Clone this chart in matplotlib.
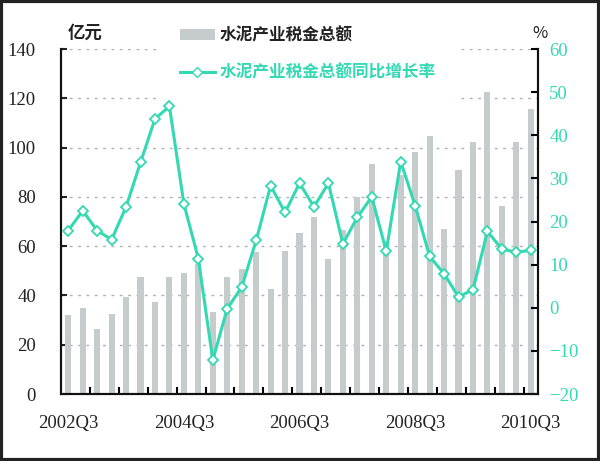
import matplotlib
matplotlib.use("Agg")
import matplotlib.pyplot as plt
from matplotlib.lines import Line2D
from matplotlib.patches import Patch, Rectangle
from matplotlib.ticker import FixedLocator

plt.rcParams['font.family'] = ['Liberation Serif', 'Noto Sans CJK SC', 'DejaVu Sans']
cjk = ['Noto Sans CJK SC', 'DejaVu Sans']

# quarters 2002Q3 .. 2010Q3
quarters = []
for y in range(2002, 2011):
    for q in range(1, 5):
        if (y == 2002 and q < 3) or (y == 2010 and q > 3):
            continue
        quarters.append(f"{y}Q{q}")

# 水泥产业税金总额 (亿元)
tax_total = [32, 35, 26.3, 32.5, 39.2, 47.3, 37.5, 47.3, 49.2, 52.7,
             33.4, 47.3, 50.6, 57.8, 42.5, 58, 65.5, 72, 54.8, 66.6,
             80, 93.2, 62, 89, 98.3, 104.7, 67, 90.9, 102.4, 122.7,
             76.3, 102.4, 115.5]

# 同比增长率 (%)
growth = [17.9, 22.5, 17.9, 15.8, 23.4, 33.7, 43.8, 46.7, 24.1, 11.4,
          -12.1, -0.2, 4.8, 15.6, 28.3, 22.1, 28.9, 23.4, 28.9, 14.8,
          21, 25.7, 13.1, 33.9, 23.7, 11.9, 7.9, 2.5, 4.2, 17.7,
          13.6, 12.9, 13.3]

label_every = 8
bar_color = '#c6cccc'
teal = '#33d9b2'

x = list(range(len(quarters)))

fig = plt.figure(figsize=(6, 4.61), dpi=100)
ax = fig.add_axes([0.1017, 0.1453, 0.795, 0.7484])
ax2 = ax.twinx()

ax.bar(x, tax_total, width=0.42, color=bar_color, zorder=2)
ax.set_xlim(-0.5, len(quarters) - 0.5)
ax.set_ylim(0, 140)
ax.set_yticks(range(0, 141, 20))
ax.yaxis.grid(True, linestyle=(0, (2, 4)), color='#b0b0b0', linewidth=1.0, zorder=0)
ax.set_axisbelow(True)

ax2.plot(x, growth, color=teal, lw=2.2, marker='D', markersize=5.5,
         markerfacecolor='white', markeredgecolor=teal, markeredgewidth=1.3, zorder=3)
ax2.set_ylim(-20, 60)
ax2.set_yticks(range(-20, 61, 10))

# x ticks: marks every 2 quarters on boundaries, labels every 8 quarters
ax.set_xticks(x[::label_every])
ax.set_xticklabels(quarters[::label_every])
ax.xaxis.set_minor_locator(FixedLocator([i + 1.5 for i in range(0, len(quarters) - 1, 2)]))
ax.tick_params(axis='x', which='major', length=0, pad=15, labelsize=13.5, colors='#222222')
ax.tick_params(axis='x', which='minor', direction='in', length=5, width=1.5)
ax.tick_params(axis='y', direction='in', length=4, width=1.5, pad=18, labelsize=13.5, colors='#222222')
ax2.tick_params(axis='y', direction='in', length=5, width=1.5, pad=8, labelsize=13.5, labelcolor=teal)

for a in (ax, ax2):
    a.spines['top'].set_visible(False)
    for s in ('left', 'right', 'bottom'):
        a.spines[s].set_linewidth(1.5)
        a.spines[s].set_color('#111111')

fig.text(0.142, 0.928, '亿元', family=cjk, fontsize=12.5, fontweight='bold',
         ha='center', va='center', color='#222222')
fig.text(0.9, 0.928, '%', family=cjk, fontsize=12, ha='center', va='center', color='#222222')

handles = [Patch(facecolor=bar_color, edgecolor='none'),
           Line2D([0], [0], color=teal, lw=2.2, marker='D', markersize=5.5,
                  markerfacecolor='white', markeredgecolor=teal)]
leg = ax2.legend(handles, ['水泥产业税金总额', '水泥产业税金总额同比增长率'],
                 loc='upper left', bbox_to_anchor=(0.19, 1.148), frameon=True,
                 facecolor='white', edgecolor='none', framealpha=1,
                 prop={'family': cjk, 'size': 12, 'weight': 'bold'}, handlelength=2.1,
                 handletextpad=0.3, labelspacing=1.15, borderpad=1.2)
leg.get_texts()[0].set_color('#222222')
leg.get_texts()[1].set_color(teal)
leg.set_zorder(1)

fig.patches.append(Rectangle((0.002, 0.003), 0.996, 0.994, transform=fig.transFigure,
                             fill=False, edgecolor='#222222', linewidth=3))

fig.savefig('out.png', dpi=100)
